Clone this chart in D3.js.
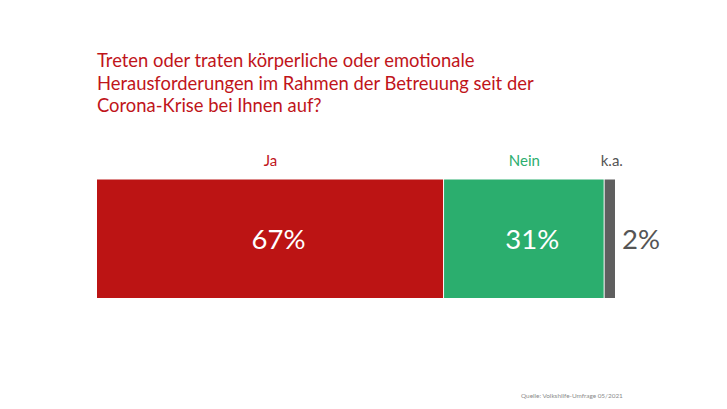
<!DOCTYPE html>
<html>
<head>
<meta charset="utf-8">
<script src="https://cdn.jsdelivr.net/npm/d3@7"></script>
<style>
  body { margin: 0; background: #fff; }
  svg { display: block; font-family: Lato, "Open Sans", sans-serif; }
</style>
</head>
<body>
<svg width="727" height="409"></svg>
<script>
// Survey answers and their shares (percent)
const categories = ["Ja", "Nein", "k.a."];
const values = [67, 31, 2];
const colors = ["#bc1414", "#2bae6e", "#5f5f5f"];
const labelColors = ["#c0141a", "#2bae6e", "#555555"];

const titleLines = [
    "Treten oder traten körperliche oder emotionale",
    "Herausforderungen im Rahmen der Betreuung seit der",
    "Corona-Krise bei Ihnen auf?"
];
const source = "Quelle: Volkshilfe-Umfrage 05/2021";

const svg = d3.select("svg");

// Title
svg.append("g")
   .selectAll("text")
   .data(titleLines)
   .enter()
   .append("text")
   .attr("x", 97)
   .attr("y", (d, i) => 67 + i * 22.5)
   .attr("fill", "#c0141a")
   .attr("font-size", 18.4)
   .text(d => d);

// Stacked segments
let acc = 0;
const segments = values.map((v, i) => {
    const s = {cat: categories[i], value: v, start: acc, end: acc + v, i: i};
    acc += v;
    return s;
});

const x = d3.scaleLinear()
            .domain([0, d3.sum(values)])
            .range([97, 615]);

const barTop = 179.5;
const barHeight = 118.5;

svg.append("g")
   .selectAll("rect")
   .data(segments)
   .enter()
   .append("rect")
   .attr("x", d => x(d.start))
   .attr("y", barTop)
   .attr("width", d => x(d.end) - x(d.start) - (d.i < segments.length - 1 ? 1 : 0))
   .attr("height", barHeight)
   .attr("fill", d => colors[d.i]);

// Category labels above the bar
svg.append("g")
   .selectAll("text")
   .data(segments)
   .enter()
   .append("text")
   .attr("x", d => (x(d.start) + x(d.end)) / 2 + (d.i === 2 ? 2 : 0))
   .attr("y", 166)
   .attr("text-anchor", "middle")
   .attr("font-size", 15)
   .attr("fill", d => labelColors[d.i])
   .text(d => d.cat);

// Percent labels: inside for large segments, beside for the small one
svg.append("g")
   .selectAll("text")
   .data(segments)
   .enter()
   .append("text")
   .attr("x", d => d.value > 5 ? (x(d.start) + x(d.end)) / 2 + 8 : x(d.end) + 7)
   .attr("y", 249)
   .attr("text-anchor", d => d.value > 5 ? "middle" : "start")
   .attr("font-size", 27.5)
   .attr("fill", d => d.value > 5 ? "#ffffff" : "#555555")
   .text(d => d.value + "%");

// Source note
svg.append("text")
   .attr("x", 521)
   .attr("y", 398)
   .attr("font-size", 6.4)
   .attr("fill", "#8a8a8a")
   .text(source);
</script>
</body>
</html>
